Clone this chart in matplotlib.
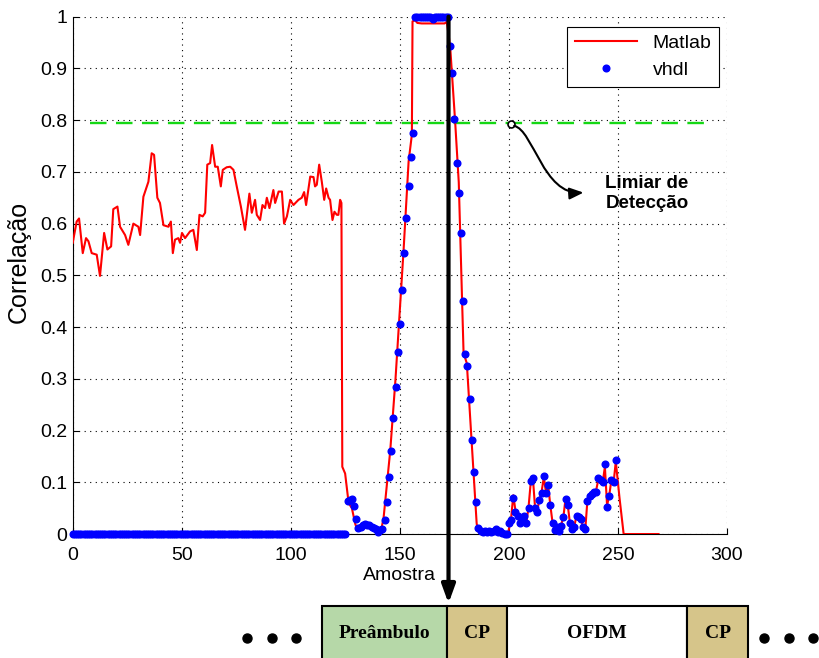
import numpy as np
import matplotlib.pyplot as plt
from matplotlib.patches import Rectangle, FancyArrowPatch
from matplotlib.path import Path

plt.rcParams['font.family'] = ['Liberation Sans', 'DejaVu Sans']

# -------------------------
# Data
# -------------------------
# Matlab curve vertices (sample, correlation)
matlab_x = [0, 1.8, 2.9, 4.6, 6.1, 7.2, 8.7, 11.0, 12.5, 14.4, 15.9, 17.6, 18.6, 20.5,
            21.7, 24.0, 25.5, 27.8, 30.1, 30.9, 32.4, 34.7, 36.2, 37.3, 38.8, 40.0,
            41.6, 43.9, 45.0, 45.9, 46.9, 48.4, 49.2, 50.1, 51.5, 53.8, 55.3, 56.9,
            58.1, 59.6, 60.7, 61.7, 63.0, 63.9, 65.3, 66.5, 67.9, 68.8, 70.6, 72.2,
            73.7, 75.2, 77.1, 79.0, 81.0, 82.1, 83.6, 84.4, 85.9, 87.0, 88.2, 89.0,
            90.2, 92.0, 92.8, 94.4, 95.9, 96.9, 98.2, 99.7, 101.2, 103.5, 105.0,
            106.1, 107.0, 108.9, 110.4, 111.1, 111.9, 113.0, 114.2, 115.3, 116.2,
            117.3, 118.0, 119.1, 120.0, 121.1, 121.8, 122.6, 123.2, 123.6, 124.9,
            126.5, 128, 129.5, 130.5, 132, 134, 136, 138, 140, 141.5, 142.5, 145.6,
            148, 151.7, 154, 155.5, 155.8, 157, 158, 160, 165, 170.5, 171.5, 172.5,
            173.2, 175.3, 177, 179.2, 180.7, 185.2, 185.8, 190, 195, 198, 199.5,
            200, 201, 202, 203, 204, 205, 206, 207, 208, 209, 210, 211, 212, 213,
            214, 215, 216, 217, 218, 219, 220, 221, 222, 223, 224, 225, 226, 227,
            228, 229, 230, 231, 232, 233, 234, 235, 236, 237, 238, 239, 240, 241,
            242, 243, 244, 245, 246, 247, 248, 249, 250.7, 252.6, 268.6]
matlab_y = [0.563, 0.604, 0.610, 0.543, 0.572, 0.566, 0.543, 0.540, 0.499, 0.582, 0.550,
            0.556, 0.628, 0.633, 0.594, 0.578, 0.559, 0.600, 0.594, 0.578, 0.652,
            0.681, 0.736, 0.733, 0.650, 0.640, 0.597, 0.594, 0.604, 0.543, 0.569,
            0.572, 0.563, 0.582, 0.572, 0.585, 0.588, 0.549, 0.617, 0.614, 0.621,
            0.714, 0.717, 0.752, 0.710, 0.710, 0.672, 0.704, 0.709, 0.710, 0.704,
            0.672, 0.633, 0.588, 0.658, 0.621, 0.646, 0.617, 0.607, 0.636, 0.630,
            0.650, 0.630, 0.665, 0.640, 0.662, 0.662, 0.600, 0.614, 0.646, 0.636,
            0.646, 0.650, 0.661, 0.636, 0.691, 0.690, 0.672, 0.675, 0.714, 0.681,
            0.646, 0.668, 0.650, 0.646, 0.607, 0.623, 0.617, 0.617, 0.646, 0.640,
            0.130, 0.117, 0.060, 0.050, 0.020, 0.008, 0.012, 0.015, 0.014, 0.010,
            0.004, 0.010, 0.030, 0.162, 0.300, 0.549, 0.720, 0.772, 0.991, 0.993,
            0.988, 0.987, 0.987, 0.987, 0.990, 0.960, 0.933, 0.800, 0.680, 0.350,
            0.330, 0.021, 0.005, 0.003, 0.005, 0.003, 0.000,
            0.010, 0.030, 0.075, 0.045, 0.035, 0.020, 0.028, 0.036, 0.022, 0.052,
            0.100, 0.108, 0.050, 0.045, 0.068, 0.082, 0.110, 0.080, 0.093, 0.055,
            0.022, 0.008, 0.012, 0.005, 0.018, 0.034, 0.070, 0.055, 0.020, 0.008,
            0.015, 0.036, 0.032, 0.030, 0.012, 0.008, 0.066, 0.074, 0.078, 0.082,
            0.085, 0.105, 0.104, 0.100, 0.130, 0.055, 0.075, 0.105, 0.100, 0.140,
            0.070, 0.000, 0.000]

# vhdl output, one value per sample (0 .. 249)
vhdl_y = [0.0] * 126 + [
    0.064, 0.066, 0.067, 0.055, 0.029, 0.012, 0.014, 0.017, 0.019, 0.018,   # 126-135
    0.018, 0.014, 0.011, 0.010, 0.003, 0.008, 0.009, 0.027, 0.062, 0.111,   # 136-145
    0.161, 0.225, 0.284, 0.351, 0.406, 0.471, 0.543, 0.611, 0.672, 0.729,   # 146-155
    0.775, 1.0, 1.0, 1.0, 1.0, 1.0, 1.0, 1.0, 1.0, 0.995,                   # 156-165
    1.0, 1.0, 1.0, 1.0, 1.0, 1.0, 1.0, 0.944, 0.892, 0.802,                 # 166-175
    0.717, 0.660, 0.582, 0.451, 0.348, 0.325, 0.261, 0.182, 0.120, 0.062,   # 176-185
    0.012, 0.005, 0.004, 0.005, 0.004, 0.005, 0.004, 0.005, 0.010, 0.004,   # 186-195
    0.006, 0.002, 0.001, 0.000, 0.022, 0.027, 0.070, 0.043, 0.035, 0.021,   # 196-205
    0.027, 0.035, 0.022, 0.050, 0.102, 0.109, 0.050, 0.043, 0.066, 0.080,   # 206-215
    0.112, 0.079, 0.095, 0.056, 0.022, 0.008, 0.014, 0.005, 0.016, 0.032,   # 216-225
    0.068, 0.056, 0.021, 0.009, 0.014, 0.034, 0.032, 0.030, 0.014, 0.009,   # 226-235
    0.064, 0.073, 0.078, 0.081, 0.082, 0.109, 0.105, 0.101, 0.135, 0.053,   # 236-245
    0.073, 0.104, 0.100, 0.143]                                             # 246-249
vhdl_x = np.arange(len(vhdl_y))

threshold = 0.795
threshold_span = (8, 292)
detect_sample = 172.3

x_ticks = [0, 50, 100, 150, 200, 250, 300]
y_ticks = [0, 0.1, 0.2, 0.3, 0.4, 0.5, 0.6, 0.7, 0.8, 0.9, 1]
y_tick_labels = ['0', '0.1', '0.2', '0.3', '0.4', '0.5', '0.6', '0.7', '0.8', '0.9', '1']

# frame structure under the plot
seg_labels = ['Preâmbulo', 'CP', 'OFDM', 'CP']
seg_colors = ['#b6d8a8', '#d6c58a', '#ffffff', '#d6c58a']

# -------------------------
# Figure
# -------------------------
fig = plt.figure(figsize=(8.19, 6.58), dpi=100)

# overlay in pixel units for the frame diagram
ax2 = fig.add_axes([0, 0, 1, 1])
ax2.set_xlim(0, 819)
ax2.set_ylim(658, 0)
ax2.axis('off')

seg_edges = [322, 447, 507, 687, 748]
for i, lab in enumerate(seg_labels):
    x0, x1 = seg_edges[i], seg_edges[i + 1]
    ax2.add_patch(Rectangle((x0, 606), x1 - x0, 70, facecolor=seg_colors[i],
                            edgecolor='black', lw=1.5, clip_on=False))
    ax2.text((x0 + x1) / 2, 634, lab, ha='center', va='center', fontsize=14,
             fontweight='bold', family='Liberation Serif')
ax2.plot([247, 272, 296], [638, 638, 638], 'o', color='black', ms=6.5)
ax2.plot([764, 789, 813], [638, 638, 638], 'o', color='black', ms=6.5)

ax = fig.add_axes([0.0888, 0.1884, 0.7989, 0.7862])
ax.set_zorder(2)

ax.plot(matlab_x, matlab_y, color='#ff0000', lw=1.5, label='Matlab', zorder=3)
ax.plot(vhdl_x, vhdl_y, 'o', color='#0000ff', ms=4.8, label='vhdl', zorder=4,
        clip_on=False)
ax.plot(threshold_span, [threshold, threshold], color='#14d814', lw=1.7,
        dashes=(7, 4), zorder=2)

# detection arrow down to the frame diagram
ax.annotate('', xy=(detect_sample, 0.083), xycoords=('data', 'figure fraction'),
            xytext=(detect_sample, 1.0), textcoords='data',
            arrowprops=dict(arrowstyle='-|>,head_length=0.55,head_width=0.2',
                            lw=3, color='black', shrinkA=0, shrinkB=0,
                            mutation_scale=20),
            annotation_clip=False, zorder=6)

# threshold note
ax.plot(201, threshold - 0.002, 'o', ms=5, mfc='white', mec='black', mew=1.2, zorder=5)
curve = Path([(202.4, 0.789), (211.2, 0.781), (215.7, 0.655), (234.2, 0.66)],
             [Path.MOVETO, Path.CURVE4, Path.CURVE4, Path.CURVE4])
ax.add_patch(FancyArrowPatch(path=curve, arrowstyle='-|>,head_length=0.6,head_width=0.25',
                             mutation_scale=14, lw=1.5, color='black', zorder=5))
ax.text(244.2, 0.658, 'Limiar de\nDetecção', fontsize=13.5, fontweight='bold',
        ha='left', va='center', linespacing=1.2)

ax.set_xlim(0, 300)
ax.set_ylim(0, 1)
ax.set_xticks(x_ticks)
ax.set_yticks(y_ticks)
ax.set_yticklabels(y_tick_labels)
ax.tick_params(direction='in', length=4, labelsize=14, width=0.8)
ax.tick_params(axis='x', pad=9)
ax.tick_params(axis='y', pad=4)
ax.grid(True, color='black', lw=0.8, linestyle=(0, (1, 4)))
ax.spines['top'].set_visible(False)
ax.spines['right'].set_visible(False)

ax.set_xlabel('Amostra', fontsize=14)
ax.xaxis.set_label_coords(0.5, -0.064)
ax.set_ylabel('Correlação', fontsize=18)
ax.yaxis.set_label_coords(-0.064, 0.526)

leg = ax.legend(loc='upper right', bbox_to_anchor=(0.988, 0.981), borderaxespad=0,
                fontsize=14, handlelength=3.2, numpoints=1, fancybox=False,
                framealpha=1, edgecolor='black', borderpad=0.4, labelspacing=0.5)
leg.get_frame().set_linewidth(0.8)

plt.savefig('out.png', dpi=100)
